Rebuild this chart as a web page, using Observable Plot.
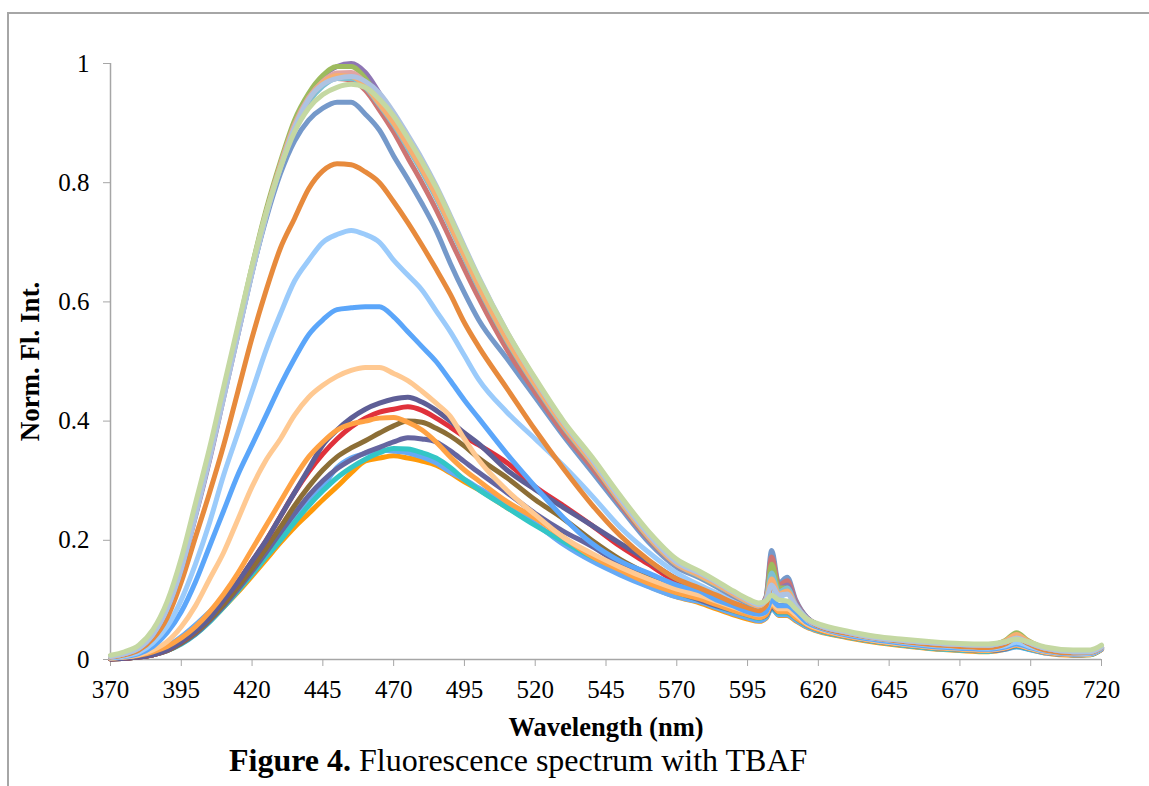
<!DOCTYPE html>
<html>
<head>
<meta charset="utf-8">
<script src="https://cdn.jsdelivr.net/npm/d3@7"></script>
<script src="https://cdn.jsdelivr.net/npm/@observablehq/plot@0.6"></script>
<style>
  html, body { margin: 0; padding: 0; background: #fff; }
  #page { position: relative; width: 1149px; height: 786px; overflow: hidden; font-family: 'Liberation Serif', 'Times New Roman', serif; }
  #chart { position: absolute; left: 0; top: 0; }
  .frameTop { position: absolute; left: 8px; top: 12px; width: 1141px; height: 0; border-top: 2px solid #a6a6a6; }
  .frameLeft { position: absolute; left: 7px; top: 12px; width: 0; height: 774px; border-left: 2px solid #a6a6a6; }
  #caption { position: absolute; left: 229px; top: 744px; font-size: 32px; line-height: 1; color: #000; white-space: nowrap; }
</style>
</head>
<body>
<div id="page">
  <div class="frameTop"></div>
  <div class="frameLeft"></div>
  <div id="chart"></div>
  <div id="caption"><b>Figure 4.</b> Fluorescence spectrum with TBAF</div>
</div>
<script>
// Wavelength grid (nm)
const wavelengths = [370,375,380,385,390,395,400,405,410,415,420,425,430,435,440,445,450,455,460,465,470,475,480,485,490,495,500,
  510,520,530,540,550,560,570,578,584,590,595,
  599,601.5,603.5,606,609,612,616,620,
  630,640,650,660,670,680,686,690,694,700,710,716,720];

const xTicks = [370,395,420,445,470,495,520,545,570,595,620,645,670,695,720];
const yTicks = [0,0.2,0.4,0.6,0.8,1];

// Series values (normalized fluorescence intensity), drawn lowest first
const orange3 = [0.001,0.002,0.004,0.008,0.015,0.027,0.043,0.064,0.088,0.113,0.14,0.168,0.196,0.222,0.245,0.268,0.29,0.313,0.333,0.338,0.342,0.338,0.333,0.326,0.313,0.298,0.285,
  0.255,0.227,0.195,0.167,0.145,0.123,0.105,0.095,0.085,0.075,0.068,
  0.064,0.069,0.088,0.074,0.074,0.065,0.054,0.047,
  0.037,0.029,0.023,0.018,0.015,0.013,0.017,0.023,0.018,0.011,0.007,0.008,0.017];
const blue2 = [0.002,0.003,0.006,0.012,0.022,0.038,0.058,0.08,0.103,0.125,0.15,0.175,0.205,0.235,0.263,0.29,0.322,0.338,0.346,0.351,0.35,0.347,0.34,0.33,0.315,0.302,0.288,
  0.26,0.228,0.193,0.165,0.142,0.122,0.105,0.097,0.087,0.077,0.07,
  0.065,0.07,0.085,0.075,0.075,0.066,0.055,0.048,
  0.038,0.03,0.024,0.019,0.016,0.014,0.017,0.021,0.017,0.011,0.008,0.009,0.018];
const teal = [0.001,0.002,0.004,0.008,0.015,0.026,0.042,0.063,0.088,0.115,0.143,0.172,0.2,0.23,0.258,0.283,0.305,0.322,0.336,0.347,0.354,0.353,0.347,0.338,0.322,0.302,0.285,
  0.255,0.225,0.198,0.172,0.152,0.133,0.112,0.1,0.09,0.081,0.074,
  0.069,0.073,0.087,0.078,0.078,0.069,0.057,0.049,
  0.038,0.03,0.024,0.019,0.016,0.014,0.018,0.022,0.018,0.012,0.008,0.008,0.017];
const slatePurple = [0.001,0.002,0.004,0.008,0.015,0.027,0.043,0.065,0.09,0.118,0.148,0.18,0.213,0.245,0.275,0.3,0.32,0.335,0.347,0.356,0.365,0.372,0.37,0.365,0.35,0.332,0.314,
  0.28,0.245,0.215,0.19,0.16,0.135,0.113,0.1,0.09,0.082,0.075,
  0.07,0.074,0.088,0.08,0.08,0.07,0.058,0.05,
  0.039,0.031,0.025,0.02,0.017,0.015,0.018,0.023,0.019,0.012,0.008,0.009,0.017];
const brown = [0.001,0.002,0.004,0.008,0.015,0.028,0.045,0.067,0.093,0.122,0.153,0.187,0.222,0.258,0.29,0.318,0.34,0.355,0.367,0.38,0.392,0.4,0.398,0.388,0.375,0.358,0.338,
  0.305,0.268,0.236,0.2,0.168,0.143,0.12,0.105,0.095,0.086,0.078,
  0.073,0.078,0.092,0.083,0.083,0.073,0.06,0.051,
  0.04,0.032,0.026,0.021,0.018,0.016,0.02,0.025,0.02,0.013,0.009,0.009,0.018];
const red = [0.001,0.002,0.004,0.008,0.016,0.03,0.048,0.072,0.1,0.13,0.165,0.2,0.24,0.28,0.315,0.345,0.37,0.39,0.405,0.415,0.42,0.424,0.418,0.405,0.39,0.374,0.36,
  0.33,0.29,0.258,0.225,0.19,0.16,0.13,0.113,0.102,0.092,0.083,
  0.078,0.083,0.097,0.088,0.088,0.077,0.062,0.053,
  0.041,0.033,0.027,0.022,0.019,0.017,0.021,0.026,0.021,0.014,0.009,0.01,0.018];
const darkPurple = [0.001,0.002,0.004,0.008,0.016,0.03,0.048,0.07,0.1,0.13,0.165,0.2,0.24,0.28,0.32,0.36,0.385,0.405,0.42,0.43,0.437,0.44,0.432,0.418,0.4,0.38,0.362,
  0.318,0.285,0.255,0.225,0.195,0.165,0.135,0.118,0.105,0.093,0.085,
  0.08,0.085,0.1,0.09,0.09,0.078,0.063,0.054,
  0.042,0.034,0.028,0.023,0.02,0.018,0.021,0.026,0.021,0.014,0.01,0.01,0.018];
const orange2 = [0.002,0.004,0.007,0.013,0.022,0.036,0.055,0.08,0.11,0.145,0.185,0.225,0.265,0.305,0.34,0.365,0.385,0.395,0.4,0.405,0.406,0.398,0.385,0.365,0.34,0.318,0.3,
  0.265,0.237,0.205,0.173,0.15,0.128,0.112,0.102,0.092,0.082,0.075,
  0.07,0.075,0.092,0.08,0.08,0.07,0.058,0.05,
  0.039,0.031,0.025,0.02,0.017,0.015,0.019,0.024,0.019,0.012,0.008,0.009,0.017];
const peach = [0.002,0.004,0.008,0.016,0.03,0.055,0.09,0.135,0.18,0.235,0.29,0.335,0.37,0.41,0.44,0.46,0.475,0.485,0.49,0.49,0.48,0.468,0.45,0.43,0.408,0.37,0.335,
  0.284,0.243,0.205,0.178,0.155,0.135,0.118,0.108,0.098,0.088,0.08,
  0.075,0.08,0.095,0.085,0.085,0.075,0.06,0.052,
  0.04,0.032,0.026,0.021,0.018,0.016,0.02,0.025,0.02,0.013,0.009,0.009,0.018];
const blue = [0.003,0.005,0.01,0.022,0.045,0.08,0.13,0.19,0.25,0.31,0.36,0.41,0.46,0.505,0.545,0.57,0.587,0.59,0.592,0.592,0.575,0.55,0.525,0.5,0.468,0.435,0.405,
  0.345,0.29,0.238,0.195,0.165,0.145,0.125,0.115,0.1,0.09,0.08,
  0.076,0.08,0.1,0.09,0.09,0.08,0.062,0.054,
  0.041,0.033,0.027,0.022,0.019,0.017,0.021,0.026,0.021,0.014,0.009,0.01,0.018];
const lightBlue = [0.003,0.006,0.012,0.028,0.055,0.1,0.16,0.23,0.31,0.38,0.45,0.52,0.58,0.635,0.67,0.7,0.713,0.72,0.713,0.7,0.67,0.645,0.62,0.585,0.55,0.51,0.47,
  0.415,0.37,0.325,0.275,0.222,0.18,0.145,0.125,0.112,0.1,0.09,
  0.085,0.09,0.12,0.105,0.11,0.09,0.066,0.056,
  0.043,0.035,0.029,0.024,0.021,0.019,0.023,0.029,0.023,0.015,0.01,0.011,0.019];
const darkOrange = [0.004,0.008,0.016,0.035,0.07,0.13,0.205,0.28,0.36,0.45,0.54,0.62,0.69,0.74,0.79,0.82,0.832,0.83,0.818,0.8,0.768,0.733,0.695,0.655,0.613,0.565,0.525,
  0.455,0.385,0.32,0.26,0.208,0.167,0.135,0.12,0.108,0.095,0.087,
  0.082,0.09,0.125,0.11,0.12,0.095,0.068,0.056,
  0.044,0.036,0.03,0.025,0.022,0.02,0.026,0.036,0.027,0.016,0.011,0.012,0.02];
const slateBlue = [0.005,0.01,0.02,0.043,0.087,0.155,0.245,0.34,0.445,0.548,0.65,0.74,0.815,0.87,0.905,0.925,0.935,0.935,0.915,0.888,0.845,0.806,0.765,0.72,0.665,0.615,0.57,
  0.505,0.44,0.375,0.315,0.255,0.197,0.155,0.137,0.122,0.106,0.095,
  0.09,0.105,0.183,0.128,0.138,0.1,0.07,0.058,
  0.046,0.037,0.032,0.028,0.025,0.024,0.029,0.036,0.029,0.019,0.013,0.013,0.021];
const dustyRed = [0.005,0.01,0.019,0.043,0.087,0.155,0.245,0.342,0.447,0.552,0.655,0.75,0.83,0.898,0.945,0.968,0.975,0.972,0.955,0.922,0.885,0.842,0.8,0.755,0.705,0.655,0.607,
  0.52,0.448,0.38,0.322,0.26,0.202,0.158,0.14,0.125,0.108,0.096,
  0.09,0.104,0.172,0.125,0.132,0.098,0.07,0.058,
  0.046,0.037,0.032,0.028,0.025,0.024,0.03,0.037,0.03,0.019,0.013,0.013,0.021];
const purple = [0.005,0.01,0.019,0.042,0.085,0.152,0.24,0.335,0.44,0.545,0.65,0.745,0.825,0.895,0.945,0.978,0.995,1.0,0.985,0.95,0.91,0.868,0.826,0.78,0.73,0.677,0.627,
  0.537,0.462,0.392,0.332,0.268,0.208,0.162,0.142,0.128,0.112,0.098,
  0.091,0.102,0.155,0.118,0.125,0.095,0.07,0.058,
  0.046,0.037,0.032,0.028,0.025,0.024,0.03,0.038,0.03,0.019,0.013,0.013,0.021];
const green = [0.005,0.01,0.02,0.045,0.09,0.16,0.25,0.345,0.45,0.555,0.66,0.755,0.835,0.905,0.95,0.98,0.995,0.995,0.975,0.94,0.905,0.865,0.825,0.78,0.73,0.675,0.625,
  0.535,0.46,0.39,0.33,0.265,0.205,0.16,0.14,0.125,0.11,0.097,
  0.09,0.1,0.16,0.12,0.12,0.09,0.068,0.058,
  0.046,0.037,0.032,0.028,0.025,0.024,0.032,0.045,0.032,0.019,0.013,0.013,0.021];
const paleTeal = [0.005,0.01,0.019,0.043,0.086,0.154,0.244,0.34,0.444,0.548,0.65,0.745,0.825,0.89,0.935,0.962,0.975,0.975,0.96,0.93,0.897,0.858,0.818,0.774,0.725,0.674,0.624,
  0.535,0.459,0.39,0.33,0.265,0.205,0.159,0.14,0.125,0.109,0.096,
  0.09,0.101,0.145,0.113,0.12,0.092,0.069,0.058,
  0.046,0.037,0.032,0.028,0.025,0.024,0.029,0.036,0.029,0.019,0.013,0.013,0.021];
const pink = [0.005,0.01,0.02,0.044,0.088,0.157,0.247,0.342,0.447,0.552,0.656,0.75,0.83,0.898,0.943,0.97,0.984,0.985,0.968,0.938,0.903,0.864,0.824,0.78,0.731,0.68,0.63,
  0.54,0.464,0.394,0.333,0.268,0.208,0.162,0.143,0.128,0.111,0.098,
  0.09,0.1,0.13,0.108,0.112,0.09,0.068,0.058,
  0.046,0.037,0.032,0.028,0.025,0.024,0.029,0.037,0.029,0.019,0.013,0.013,0.021];
const lightOrange = [0.005,0.01,0.019,0.043,0.087,0.155,0.245,0.34,0.445,0.55,0.652,0.748,0.828,0.895,0.94,0.968,0.98,0.978,0.962,0.932,0.9,0.862,0.822,0.778,0.728,0.677,0.627,
  0.537,0.461,0.392,0.331,0.266,0.206,0.16,0.141,0.126,0.11,0.097,
  0.09,0.1,0.135,0.11,0.115,0.09,0.068,0.058,
  0.046,0.037,0.032,0.028,0.025,0.024,0.031,0.042,0.031,0.019,0.013,0.013,0.021];
const paleBlue = [0.005,0.01,0.019,0.042,0.085,0.152,0.242,0.338,0.44,0.545,0.648,0.745,0.825,0.893,0.94,0.965,0.975,0.978,0.97,0.95,0.918,0.88,0.84,0.795,0.745,0.693,0.642,
  0.55,0.47,0.398,0.336,0.27,0.21,0.163,0.145,0.13,0.113,0.1,
  0.092,0.1,0.125,0.108,0.11,0.09,0.068,0.058,
  0.046,0.037,0.032,0.028,0.025,0.024,0.029,0.036,0.029,0.019,0.013,0.013,0.021];
const paleGreen = [0.007,0.013,0.024,0.05,0.097,0.17,0.262,0.355,0.458,0.56,0.66,0.75,0.825,0.885,0.925,0.948,0.96,0.965,0.96,0.94,0.912,0.875,0.835,0.792,0.742,0.69,0.64,
  0.55,0.472,0.4,0.34,0.275,0.215,0.168,0.148,0.132,0.115,0.102,
  0.095,0.098,0.108,0.1,0.098,0.085,0.068,0.06,
  0.048,0.039,0.034,0.03,0.027,0.026,0.03,0.034,0.03,0.021,0.016,0.016,0.024];

const seriesNames = ["orange3","blue2","teal","slatePurple","brown","red","darkPurple","orange2","peach","blue","lightBlue","darkOrange","slateBlue","dustyRed","purple","green","paleTeal","pink","lightOrange","paleBlue","paleGreen"];
const seriesValues = [orange3,blue2,teal,slatePurple,brown,red,darkPurple,orange2,peach,blue,lightBlue,darkOrange,slateBlue,dustyRed,purple,green,paleTeal,pink,lightOrange,paleBlue,paleGreen];
const seriesColors = ["#ff9a0a","#66aaf5","#33c6c6","#6565a0","#8c6e36","#e0313b","#5e5e96","#ffa244","#ffc992","#5ba6fa","#9bcbfb","#e78a3c","#7599ca","#cd7573","#8e76b4","#9dbb5e","#7dbfd3","#e2a4a2","#f6ae72","#aec3e2","#c4d8a2"];

const rows = seriesNames.flatMap((name, k) =>
  wavelengths.map((w, i) => ({ name, w, v: seriesValues[k][i] })).filter(d => d.v != null));

const chart = Plot.plot({
  width: 1149,
  height: 740,
  marginLeft: 110,
  marginRight: 48,
  marginTop: 63,
  marginBottom: 81,
  style: { fontFamily: "'Liberation Serif', 'Times New Roman', serif", fontSize: "25px", color: "#000", background: "transparent", overflow: "visible" },
  x: { domain: [370, 720] },
  y: { domain: [0, 1] },
  color: { domain: seriesNames, range: seriesColors },
  marks: [
    Plot.ruleX([370], { stroke: "#a6a6a6", strokeWidth: 1.5 }),
    Plot.ruleY([0], { stroke: "#a6a6a6", strokeWidth: 1.5 }),
    Plot.axisX({ ticks: xTicks, tickSize: 7, tickPadding: 14, fontSize: 25, stroke: "#a6a6a6", fill: "#000", label: null, tickFormat: d => String(d) }),
    Plot.axisY({ ticks: yTicks, tickSize: 7, tickPadding: 14, fontSize: 25, stroke: "#a6a6a6", fill: "#000", label: null, tickFormat: d => String(d) }),
    Plot.line(rows, { x: "w", y: "v", z: "name", stroke: "name", strokeWidth: 5, curve: "monotone-x", strokeLinejoin: "round", strokeLinecap: "round" }),
    Plot.text(["Wavelength (nm)"], { frameAnchor: "bottom", dy: 68, lineAnchor: "middle", textAnchor: "middle", text: d => d, fontWeight: "bold", fontSize: 26.5, fill: "#000" }),
    Plot.text(["Norm. Fl. Int."], { frameAnchor: "left", dx: -80, rotate: -90, lineAnchor: "middle", textAnchor: "middle", text: d => d, fontWeight: "bold", fontSize: 27, fill: "#000" })
  ]
});
document.getElementById("chart").appendChild(chart);
</script>
</body>
</html>
